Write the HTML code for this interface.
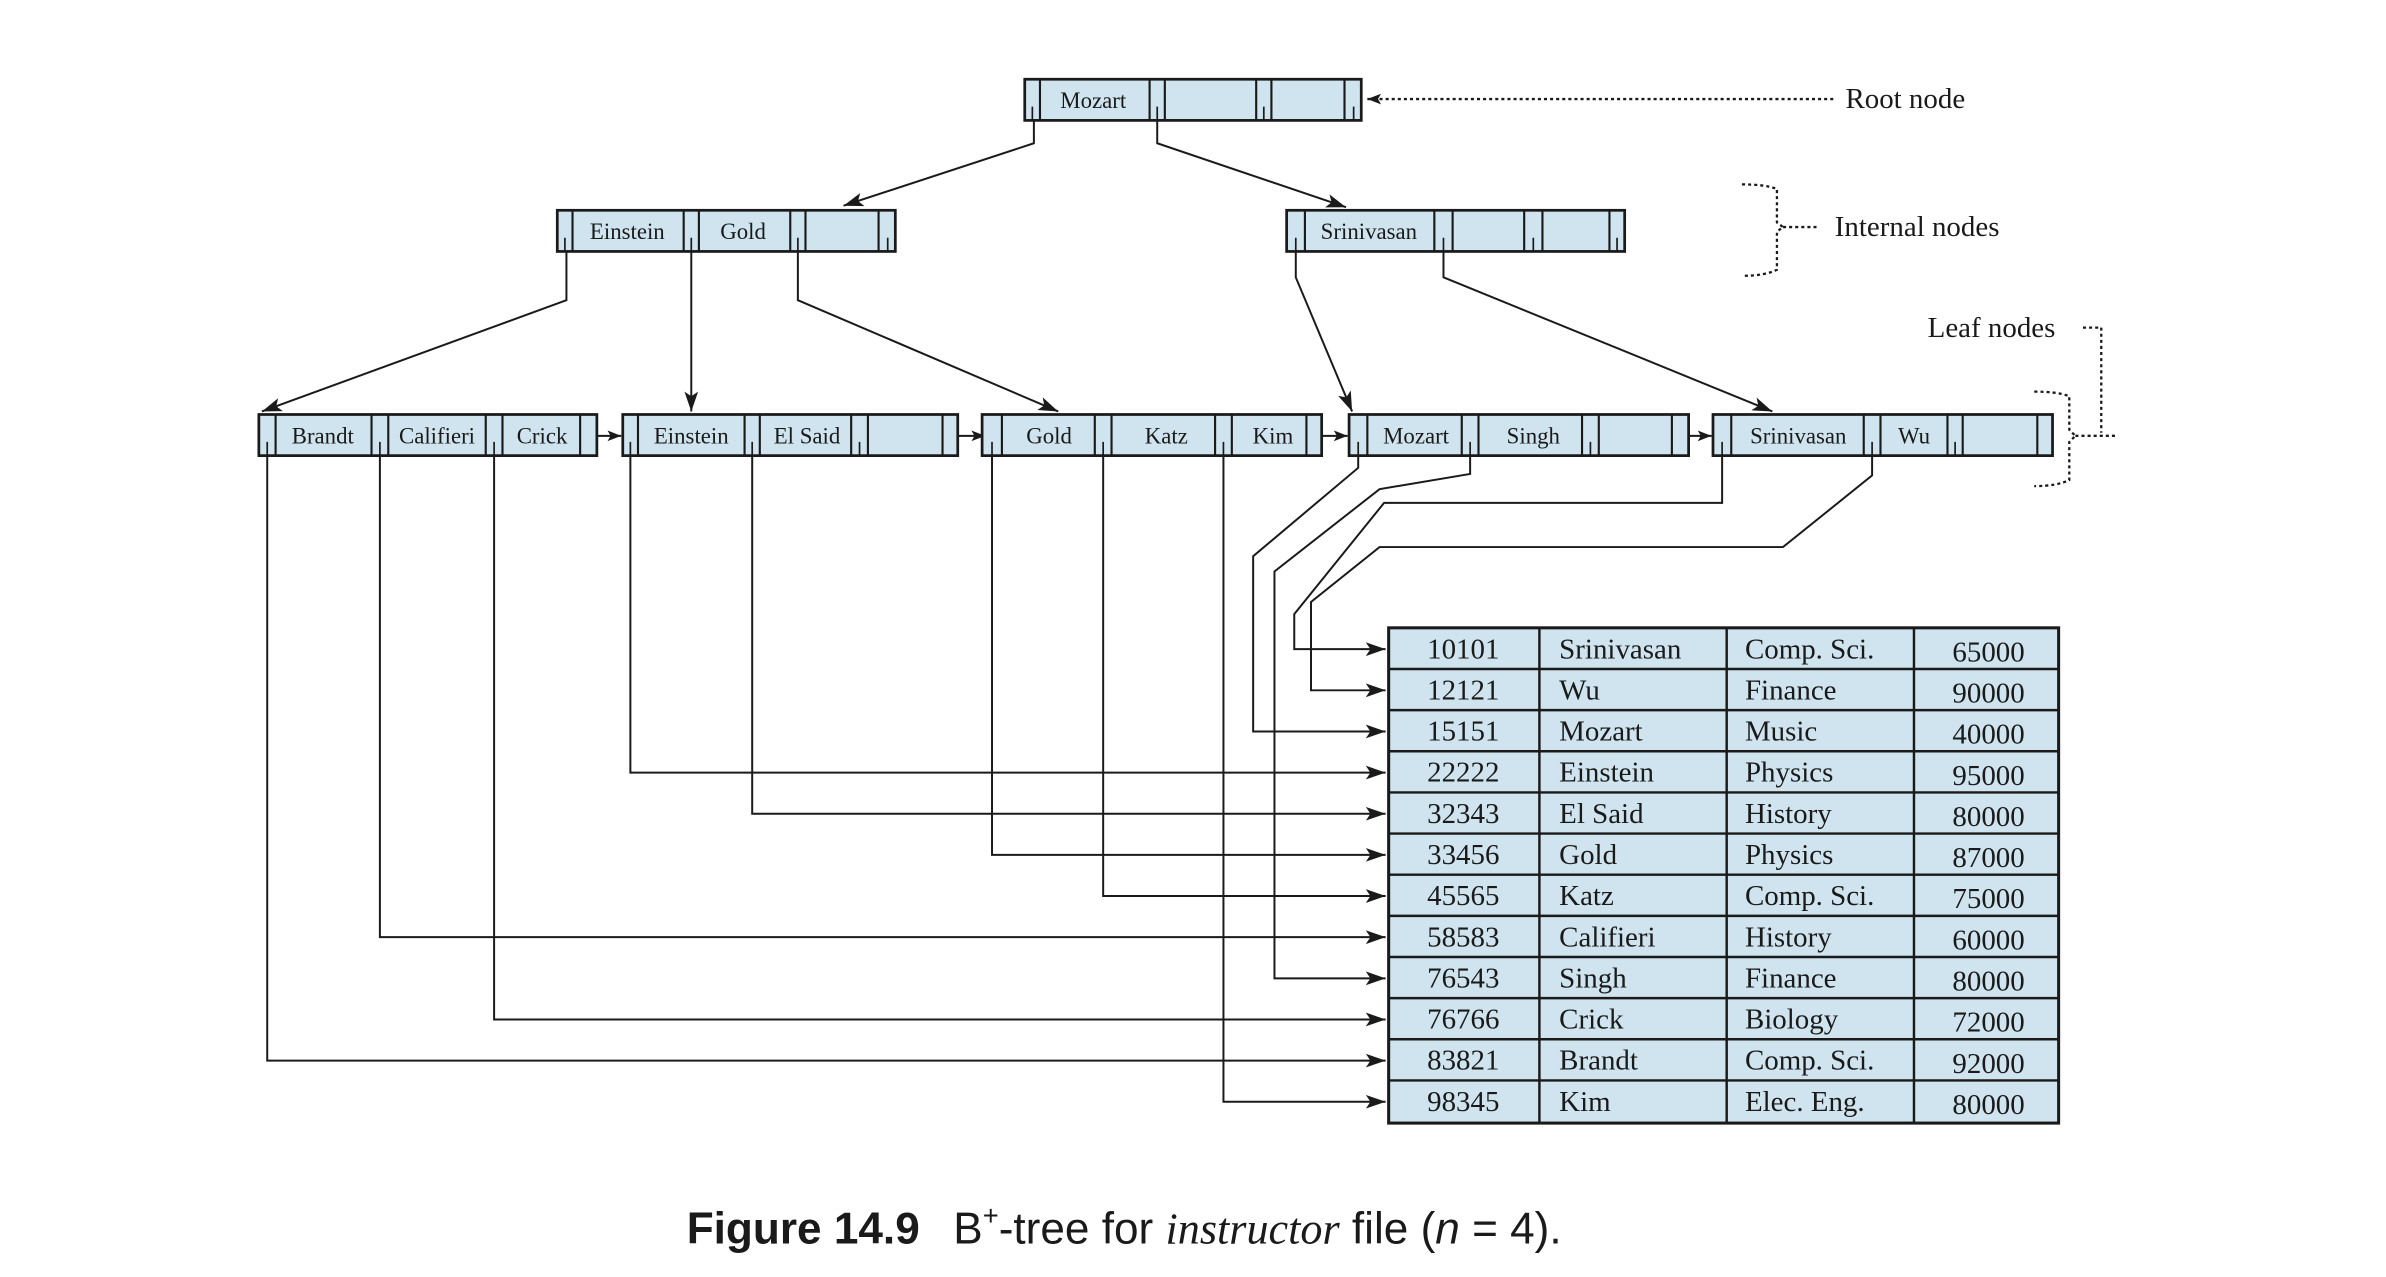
<!DOCTYPE html>
<html><head><meta charset="utf-8"><style>
html,body{margin:0;padding:0;background:#fff;}
svg{display:block;}
text{font-family:"Liberation Serif",serif;fill:#1a1a1a;}
</style></head><body>
<svg width="2386" height="1277" viewBox="1 1 1567 838" preserveAspectRatio="none" xmlns="http://www.w3.org/2000/svg">
<defs>
<marker id="a" markerUnits="userSpaceOnUse" markerWidth="14" markerHeight="10" refX="13" refY="5" orient="auto">
<path d="M0,0.5 L13,5 L0,9.5 L3,5 Z" fill="#1a1a1a"/>
</marker>
<marker id="s" markerUnits="userSpaceOnUse" markerWidth="10" markerHeight="8" refX="9" refY="4" orient="auto">
<path d="M0,0.5 L9,4 L0,7.5 L2,4 Z" fill="#1a1a1a"/>
</marker>
</defs>
<g stroke="#1a1a1a" fill="none" stroke-width="1.3">
<polyline points="680,80 680,95 555,136" marker-end="url(#a)"/>
<polyline points="761,80 761,95 885,137" marker-end="url(#a)"/>
<polyline points="373,166 373,198 173,271" marker-end="url(#a)"/>
<polyline points="455,166 455,271" marker-end="url(#a)"/>
<polyline points="525,166 525,198 696,271" marker-end="url(#a)"/>
<polyline points="852,166 852,183 889,271" marker-end="url(#a)"/>
<polyline points="949,166 949,183 1165,271" marker-end="url(#a)"/>
<line x1="388" y1="287" x2="409" y2="287" marker-end="url(#s)"/>
<line x1="625" y1="287" x2="648" y2="287" marker-end="url(#s)"/>
<line x1="864" y1="287" x2="886" y2="287" marker-end="url(#s)"/>
<line x1="1104" y1="287" x2="1125" y2="287" marker-end="url(#s)"/>
<polyline points="176.5,300 176.5,697 911,697" marker-end="url(#a)"/>
<polyline points="250.5,300 250.5,616 911,616" marker-end="url(#a)"/>
<polyline points="325.5,300 325.5,670 911,670" marker-end="url(#a)"/>
<polyline points="415,300 415,508 911,508" marker-end="url(#a)"/>
<polyline points="495,300 495,535 911,535" marker-end="url(#a)"/>
<polyline points="652.5,300 652.5,562 911,562" marker-end="url(#a)"/>
<polyline points="725.5,300 725.5,589 911,589" marker-end="url(#a)"/>
<polyline points="804.5,300 804.5,724 911,724" marker-end="url(#a)"/>
<polyline points="893,300 893,308 824,366 824,481 911,481" marker-end="url(#a)"/>
<polyline points="966.5,300 966.5,312 907,322 838,376 838,643 911,643" marker-end="url(#a)"/>
<polyline points="1132,300 1132,331 910,331 851,404 851,427 911,427" marker-end="url(#a)"/>
<polyline points="1230.5,300 1230.5,313 1172,360 907,360 862,396 862,454 911,454" marker-end="url(#a)"/>
<g stroke-dasharray="2,2" stroke-width="1.5">
<line x1="1205" y1="66" x2="899" y2="66" marker-end="url(#s)"/>
<path d="M1145,122 Q1160,122 1168,125 L1168,147 L1172,150 L1168,153 L1168,178 Q1160,182 1145,182"/>
<line x1="1172" y1="150" x2="1196" y2="150"/>
<path d="M1337,258 Q1352,258 1360,261 L1360,283 L1364,287 L1360,291 L1360,316 Q1352,320 1337,320"/>
<line x1="1364" y1="287" x2="1390" y2="287"/>
<polyline points="1369,216 1381,216 1381,285"/>
</g>
</g>
<g stroke="#1a1a1a" fill="#cfe4ee" stroke-width="1.8">
<rect x="674" y="53" width="221" height="27"/>
<rect x="367" y="139" width="222" height="27"/>
<rect x="846" y="139" width="222" height="27"/>
<rect x="171" y="273" width="222" height="27"/>
<rect x="410" y="273" width="220" height="27"/>
<rect x="646" y="273" width="223" height="27"/>
<rect x="887" y="273" width="223" height="27"/>
<rect x="1126" y="273" width="223" height="27"/>
</g>
<g stroke="#1a1a1a" stroke-width="1.4" fill="none">
<path d="M684,53V80M756,53V80M766,53V80M826,53V80M836,53V80M884,53V80"/>
<path d="M377,139V166M450,139V166M460,139V166M520,139V166M530,139V166M578,139V166"/>
<path d="M858,139V166M943,139V166M955,139V166M1002,139V166M1014,139V166M1058,139V166"/>
<path d="M182,273V300M245,273V300M256,273V300M320,273V300M331,273V300M382,273V300"/>
<path d="M420,273V300M490,273V300M500,273V300M560,273V300M571,273V300M620,273V300"/>
<path d="M659,273V300M720,273V300M731,273V300M799,273V300M810,273V300M859,273V300"/>
<path d="M899,273V300M961,273V300M972,273V300M1040,273V300M1051,273V300M1099,273V300"/>
<path d="M1138,273V300M1225,273V300M1236,273V300M1280,273V300M1290,273V300M1339,273V300"/>
<path stroke-width="1.1" d="M679,71V80M761,71V80M831,71V80M890,71V80
M372,157V166M455,157V166M525,157V166M584,157V166
M852,157V166M949,157V166M1008,157V166M1063,157V166
M176.5,291V300M250.5,291V300M325.5,291V300
M415,291V300M495,291V300M565.5,291V300
M652.5,291V300M725.5,291V300M804.5,291V300
M893,291V300M966.5,291V300M1045.5,291V300
M1132,291V300M1230.5,291V300M1285,291V300"/>
</g>
<g font-size="15" text-anchor="middle">
<text x="719" y="72">Mozart</text>
<text x="413" y="158">Einstein</text>
<text x="489" y="158">Gold</text>
<text x="900" y="158">Srinivasan</text>
<text x="213" y="292">Brandt</text>
<text x="288" y="292">Califieri</text>
<text x="357" y="292">Crick</text>
<text x="455" y="292">Einstein</text>
<text x="531" y="292">El Said</text>
<text x="690" y="292">Gold</text>
<text x="767" y="292">Katz</text>
<text x="837" y="292">Kim</text>
<text x="931" y="292">Mozart</text>
<text x="1008" y="292">Singh</text>
<text x="1182" y="292">Srinivasan</text>
<text x="1258" y="292">Wu</text>
</g>
<g font-size="19">
<text x="1213" y="72">Root node</text>
<text x="1206" y="156">Internal nodes</text>
<text x="1267" y="222">Leaf nodes</text>
</g>
<g stroke="#1a1a1a" stroke-width="2" fill="#cfe4ee">
<rect x="913" y="413" width="440" height="325"/>
</g>
<g stroke="#1a1a1a" stroke-width="1.6" fill="none">
<path d="M1012,413V738M1135,413V738M1258,413V738
M913,440H1353M913,467H1353M913,494H1353M913,521H1353M913,548H1353M913,575H1353M913,602H1353M913,629H1353M913,656H1353M913,683H1353M913,710H1353"/>
</g>
<g font-size="19">
<g text-anchor="middle">
<text x="962" y="433">10101</text><text x="962" y="460">12121</text><text x="962" y="487">15151</text><text x="962" y="514">22222</text><text x="962" y="541">32343</text><text x="962" y="568">33456</text><text x="962" y="595">45565</text><text x="962" y="622">58583</text><text x="962" y="649">76543</text><text x="962" y="676">76766</text><text x="962" y="703">83821</text><text x="962" y="730">98345</text>
<text x="1307" y="435">65000</text><text x="1307" y="462">90000</text><text x="1307" y="489">40000</text><text x="1307" y="516">95000</text><text x="1307" y="543">80000</text><text x="1307" y="570">87000</text><text x="1307" y="597">75000</text><text x="1307" y="624">60000</text><text x="1307" y="651">80000</text><text x="1307" y="678">72000</text><text x="1307" y="705">92000</text><text x="1307" y="732">80000</text>
</g>
<text x="1025" y="433">Srinivasan</text><text x="1025" y="460">Wu</text><text x="1025" y="487">Mozart</text><text x="1025" y="514">Einstein</text><text x="1025" y="541">El Said</text><text x="1025" y="568">Gold</text><text x="1025" y="595">Katz</text><text x="1025" y="622">Califieri</text><text x="1025" y="649">Singh</text><text x="1025" y="676">Crick</text><text x="1025" y="703">Brandt</text><text x="1025" y="730">Kim</text>
<text x="1147" y="433">Comp. Sci.</text><text x="1147" y="460">Finance</text><text x="1147" y="487">Music</text><text x="1147" y="514">Physics</text><text x="1147" y="541">History</text><text x="1147" y="568">Physics</text><text x="1147" y="595">Comp. Sci.</text><text x="1147" y="622">History</text><text x="1147" y="649">Finance</text><text x="1147" y="676">Biology</text><text x="1147" y="703">Comp. Sci.</text><text x="1147" y="730">Elec. Eng.</text>
</g>
<text x="452" y="817" font-size="29" style="font-family:'Liberation Sans',sans-serif"><tspan font-weight="bold">Figure 14.9</tspan><tspan dx="22">B</tspan><tspan font-size="18" dy="-12">+</tspan><tspan dy="12">-tree for </tspan><tspan style="font-family:'Liberation Serif',serif" font-style="italic">instructor</tspan><tspan> file (</tspan><tspan font-style="italic">n</tspan><tspan> = 4).</tspan></text>
</svg>
</body></html>
